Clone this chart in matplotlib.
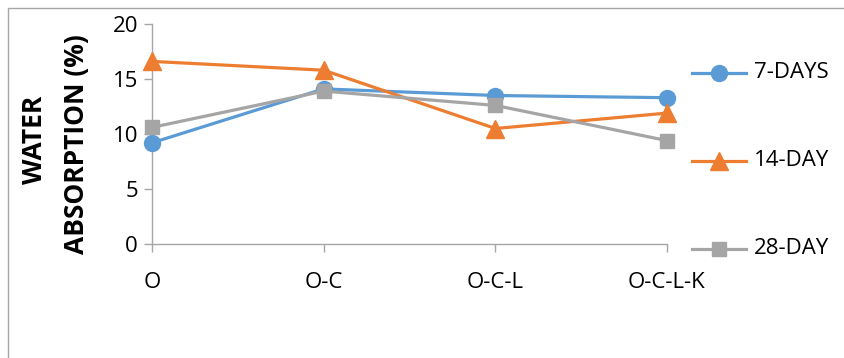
import matplotlib
matplotlib.use("Agg")
import matplotlib.pyplot as plt
from matplotlib.patches import Rectangle
from matplotlib.lines import Line2D

categories = ["O", "O-C", "O-C-L", "O-C-L-K"]
days7 = [9.2, 14.1, 13.5, 13.3]
days14 = [16.6, 15.8, 10.5, 11.9]
days28 = [10.6, 13.9, 12.6, 9.4]
series_labels = ["7-DAYS", "14-DAY", "28-DAY"]
yticks = [0, 5, 10, 15, 20]

plt.rcParams['font.family'] = ['Open Sans', 'DejaVu Sans']

W, H = 845, 358
fig = plt.figure(figsize=(W / 100, H / 100), dpi=100)

# outer chart frame (left and top edges visible)
fig.patches.append(Rectangle((8 / W, -0.1), 1.2, 1 - 8 / H + 0.1,
                             transform=fig.transFigure, fill=False,
                             edgecolor="#a6a6a6", linewidth=1.0))

ax = fig.add_axes([152 / W, 1 - 244 / H, (667 - 152) / W, (244 - 24) / H])
ax.set_facecolor("none")
x = list(range(len(categories)))

styles = [
    (days7, "#5B9BD5", "o", 11.5),
    (days14, "#ED7D31", "^", 12.5),
    (days28, "#A5A5A5", "s", 10),
]
for (vals, col, mk, ms), lab in zip(styles, series_labels):
    ax.plot(x, vals, color=col, marker=mk, markersize=ms, linewidth=2.3,
            label=lab, clip_on=False, zorder=3)

ax.set_xlim(0, 3)
ax.set_ylim(0, 20)
ax.set_yticks(yticks)
ax.set_xticks(x)
ax.set_xticklabels(categories)

for s in ["top", "right"]:
    ax.spines[s].set_visible(False)
for s in ["left", "bottom"]:
    ax.spines[s].set_color("#a6a6a6")
    ax.spines[s].set_linewidth(1.0)
ax.tick_params(axis="both", colors="#a6a6a6", length=6, width=1.0,
               labelcolor="black", labelsize=16)
ax.tick_params(axis="x", pad=14)
ax.tick_params(axis="y", pad=4)

fig.text(35 / W, 1 - 140 / H, "WATER", rotation=90, ha="center", va="center",
         fontsize=19, fontweight="bold")
fig.text(77 / W, 1 - 144 / H, "ABSORPTION (%)", rotation=90, ha="center",
         va="center", fontsize=19, fontweight="bold")

# legend entries stacked down the right side
leg_y = [73, 161, 249]
for (vals, col, mk, ms), lab, yy in zip(styles, series_labels, leg_y):
    yf = 1 - yy / H
    fig.add_artist(Line2D([692 / W, 746 / W], [yf, yf], color=col,
                          linewidth=2.3, transform=fig.transFigure))
    fig.add_artist(Line2D([719 / W], [yf], color=col, marker=mk,
                          markersize=ms, transform=fig.transFigure))
    fig.text(754 / W, yf, lab, ha="left", va="center", fontsize=16)

fig.savefig("out.png", dpi=100)
